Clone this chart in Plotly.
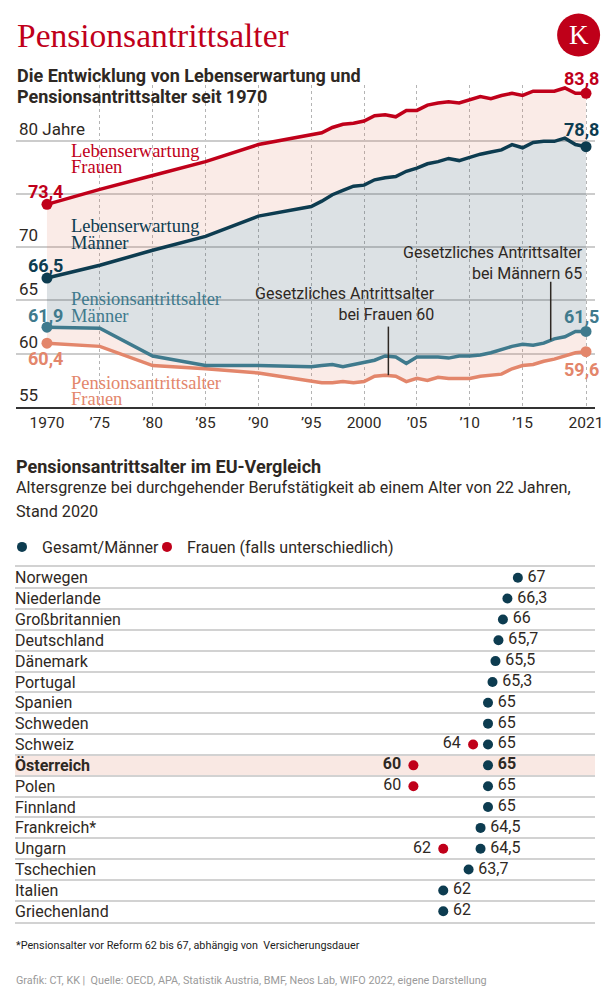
import plotly.graph_objects as go

# ---------------- data: development 1970-2021 ----------------
years = [1970, 1975, 1980, 1985, 1990,
         1995, 1996, 1997, 1998, 1999, 2000, 2001, 2002, 2003, 2004, 2005, 2006, 2007, 2008,
         2009, 2010, 2011, 2012, 2013, 2014, 2015, 2016, 2017, 2018, 2019, 2020, 2021]
le_women = [73.4, 74.8, 76.1, 77.4, 79.0,
            79.9, 80.1, 80.6, 80.9, 81.0, 81.2, 81.7, 81.8, 81.6, 82.2, 82.2, 82.7, 82.9, 83.0,
            82.9, 83.2, 83.5, 83.3, 83.6, 83.8, 83.6, 84.0, 84.0, 84.0, 84.3, 83.8, 83.8]
le_men = [66.5, 67.7, 69.1, 70.4, 72.3,
          73.2, 73.7, 74.3, 74.7, 75.1, 75.2, 75.7, 75.9, 76.0, 76.5, 76.8, 77.2, 77.4, 77.7,
          77.5, 77.8, 78.1, 78.3, 78.5, 79.0, 78.7, 79.2, 79.3, 79.3, 79.6, 79.0, 78.8]
pa_men = [61.9, 61.8, 59.2, 58.3, 58.3,
          58.2, 58.3, 58.4, 58.2, 58.4, 58.6, 58.8, 59.2, 59.1, 58.5, 59.1, 59.1, 59.1, 59.0,
          59.2, 59.2, 59.3, 59.5, 59.8, 60.1, 60.3, 60.2, 60.4, 60.8, 61.0, 61.5, 61.5]
pa_women = [60.4, 60.1, 58.3, 58.0, 57.6,
            56.8, 56.7, 56.7, 56.8, 56.7, 56.8, 57.3, 57.4, 57.3, 56.8, 57.1, 56.9, 57.2, 57.1,
            57.1, 57.1, 57.3, 57.4, 57.5, 58.0, 58.3, 58.4, 58.7, 58.9, 59.2, 59.5, 59.6]

x_tick_vals = [1970, 1975, 1980, 1985, 1990, 1995, 2000, 2005, 2010, 2015, 2021]
x_tick_text = ["1970", "’75", "’80", "’85", "’90", "’95", "2000", "’05", "’10", "’15", "2021"]
y_tick_vals = [55, 60, 65, 70, 75, 80]
y_tick_text = ["55", "60", "65", "70", "", "80 Jahre"]

# ---------------- data: EU comparison (Stand 2020) ----------------
countries = ["Norwegen", "Niederlande", "Großbritannien", "Deutschland", "Dänemark", "Portugal",
             "Spanien", "Schweden", "Schweiz", "Österreich", "Polen", "Finnland", "Frankreich*",
             "Ungarn", "Tschechien", "Italien", "Griechenland"]
age_total_men = [67, 66.3, 66, 65.7, 65.5, 65.3, 65, 65, 65, 65, 65, 65, 64.5, 64.5, 63.7, 62, 62]
age_women = [None, None, None, None, None, None, None, None, 64, 60, 60, None, None, 62, None, None, None]
highlight = "Österreich"

# ---------------- style ----------------
OFF = 8                      # page body margin of the html page
W, H = 616 - 2 * OFF, 1004 - 2 * OFF
RED = "#c0001a"
NAVY = "#0d3c50"
TEAL = "#3f7a8d"
SALMON = "#e3866b"
PINK = "rgba(224,120,95,0.15)"
GRAY = "rgba(40,70,90,0.16)"
TXT = "#2e2823"
SANS = "Roboto, 'Open Sans', sans-serif"
SERIF = "'Liberation Serif', 'DejaVu Serif', serif"


def px(x):
    return (x - OFF) / W


def py(y):
    return 1 - (y - OFF) / H


def fmt(v):
    return f"{v:g}".replace(".", ",")


TOP_DOMAIN = [py(407), py(85)]
TOP_X_DOMAIN = [px(16), px(595)]
X_RANGE = [1967.07, 2021.85]

fig = go.Figure()

# invisible trace so that the grid/label subplot (x, y) is drawn underneath the data
fig.add_trace(go.Scatter(x=years, y=pa_women, xaxis="x", yaxis="y", mode="none",
                         showlegend=False, hoverinfo="skip"))

# ---- top chart: lines with fills between them (drawn on x2/y2) ----
series = [
    (pa_women, SALMON, None, None),
    (pa_men, TEAL, "tonexty", PINK),
    (le_men, NAVY, "tonexty", GRAY),
    (le_women, RED, "tonexty", PINK),
]
for vals, col, fill, fcol in series:
    fig.add_trace(go.Scatter(
        x=years, y=vals, xaxis="x2", yaxis="y2", mode="lines",
        line=dict(color=col, width=3.5), fill=fill, fillcolor=fcol,
        showlegend=False, hoverinfo="skip"))
for vals, col, fill, fcol in series:
    fig.add_trace(go.Scatter(
        x=[years[0], years[-1]], y=[vals[0], vals[-1]], xaxis="x2", yaxis="y2",
        mode="markers", marker=dict(color=col, size=11), showlegend=False,
        hoverinfo="skip", cliponaxis=False))

annotations = []

# value labels at start and end of each series
label_shifts = {  # (start yshift, end yshift)
    RED: (13, 15),
    NAVY: (13, 17),
    TEAL: (12, 15),
    SALMON: (-15, -18),
}
for vals, col, fill, fcol in series:
    s0, s1 = label_shifts[col]
    annotations.append(dict(x=years[0], y=vals[0], xref="x2", yref="y2", text=fmt(vals[0]),
                            showarrow=False, yshift=s0, xshift=-1,
                            font=dict(family=SANS, size=18, color=col, weight=700)))
    annotations.append(dict(x=years[-1], y=vals[-1], xref="x2", yref="y2", text=fmt(vals[-1]),
                            showarrow=False, yshift=s1, xshift=-5,
                            font=dict(family=SANS, size=18, color=col, weight=700)))

# series names (serif)
name_labels = [
    ("Lebenserwartung", 150.7, RED), ("Frauen", 167.3, RED),
    ("Lebenserwartung", 226, NAVY), ("Männer", 242.7, NAVY),
    ("Pensionsantrittsalter", 299, TEAL), ("Männer", 315.7, TEAL),
    ("Pensionsantrittsalter", 382.7, SALMON), ("Frauen", 399.3, SALMON),
]
for txt, yy, col in name_labels:
    annotations.append(dict(x=px(69), y=py(yy), xref="paper", yref="paper", text=txt,
                            showarrow=False, xanchor="left", yanchor="middle",
                            font=dict(family=SERIF, size=18.5, color=col)))

# legal retirement age notes
annotations.append(dict(x=px(437), y=py(304), xref="paper", yref="paper",
                        text="Gesetzliches Antrittsalter<br>bei Frauen 60", align="right",
                        showarrow=False, xanchor="right", yanchor="middle",
                        font=dict(family=SANS, size=16, color=TXT)))
annotations.append(dict(x=px(585), y=py(262.5), xref="paper", yref="paper",
                        text="Gesetzliches Antrittsalter<br>bei Männern 65", align="right",
                        showarrow=False, xanchor="right", yanchor="middle",
                        font=dict(family=SANS, size=16, color=TXT)))

shapes = [
    dict(type="line", xref="x2", yref="y2", x0=2002.3, x1=2002.3, y0=57.4, y1=61.95,
         line=dict(color=TXT, width=1.5)),
    dict(type="line", xref="x2", yref="y2", x0=2017.66, x1=2017.66, y0=60.66, y1=66.15,
         line=dict(color=TXT, width=1.5)),
]

# ---- EU comparison dot chart ----
rows = list(range(len(countries)))
hl = countries.index(highlight)
shapes.append(dict(type="rect", xref="x3 domain", yref="y3", x0=0, x1=1, y0=hl - 0.5, y1=hl + 0.5,
                   fillcolor="#f9e8e3", line=dict(width=0), layer="below"))

tick_text = [f"<b>{c}</b>" if c == highlight else c for c in countries]
men_text = [f"<b>{fmt(v)}</b>" if c == highlight else fmt(v) for c, v in zip(countries, age_total_men)]
wom_text = [("" if v is None else (f"<b>{fmt(v)}</b>" if c == highlight else fmt(v)))
            for c, v in zip(countries, age_women)]

fig.add_trace(go.Scatter(x=age_total_men, y=rows, xaxis="x3", yaxis="y3", mode="markers",
                         marker=dict(color=NAVY, size=10), name="Gesamt/Männer",
                         legend="legend", hoverinfo="skip"))
fig.add_trace(go.Scatter(x=age_women, y=rows, xaxis="x3", yaxis="y3", mode="markers",
                         marker=dict(color=RED, size=10), name="Frauen (falls unterschiedlich)",
                         legend="legend2", hoverinfo="skip"))
fig.add_trace(go.Scatter(x=age_total_men, y=rows, xaxis="x3", yaxis="y3", mode="markers+text",
                         text=men_text, textposition="middle right",
                         marker=dict(size=14, color="rgba(0,0,0,0)"),
                         textfont=dict(family=SANS, size=16, color=TXT), showlegend=False,
                         hoverinfo="skip"))
fig.add_trace(go.Scatter(x=age_women, y=rows, xaxis="x3", yaxis="y3", mode="markers+text",
                         text=wom_text, textposition="middle left",
                         marker=dict(size=18, color="rgba(0,0,0,0)"),
                         textfont=dict(family=SANS, size=16, color=TXT), showlegend=False,
                         hoverinfo="skip"))

# ---- titles / texts ----
annotations += [
    dict(x=px(15), y=py(35), text="Pensionsantrittsalter", xanchor="left", yanchor="middle",
         font=dict(family=SERIF, size=33.5, color=RED)),
    dict(x=px(15), y=py(76), text="Die Entwicklung von Lebenserwartung und", xanchor="left",
         yanchor="middle", font=dict(family=SANS, size=18, color=TXT, weight=700)),
    dict(x=px(15), y=py(97), text="Pensionsantrittsalter seit 1970", xanchor="left",
         yanchor="middle", font=dict(family=SANS, size=18, color=TXT, weight=700)),
    dict(x=px(578.6), y=py(35), text="K", xanchor="center", yanchor="middle",
         font=dict(family=SERIF, size=27, color="white")),
    dict(x=px(14), y=py(466.5), text="Pensionsantrittsalter im EU-Vergleich", xanchor="left",
         yanchor="middle", font=dict(family=SANS, size=18, color=TXT, weight=700)),
    dict(x=px(14), y=py(487.7),
         text="Altersgrenze bei durchgehender Berufstätigkeit ab einem Alter von 22 Jahren,",
         xanchor="left", yanchor="middle", font=dict(family=SANS, size=16.2, color=TXT)),
    dict(x=px(14), y=py(511.7), text="Stand 2020", xanchor="left", yanchor="middle",
         font=dict(family=SANS, size=16.2, color=TXT)),
    dict(x=px(14), y=py(945.7),
         text="*Pensionsalter vor Reform 62 bis 67, abhängig von  Versicherungsdauer",
         xanchor="left", yanchor="middle", font=dict(family=SANS, size=10.8, color="#222222")),
    dict(x=px(14), y=py(980),
         text="Grafik: CT, KK |  Quelle: OECD, APA, Statistik Austria, BMF, Neos Lab, WIFO 2022, eigene Darstellung",
         xanchor="left", yanchor="middle", font=dict(family=SANS, size=10.8, color="#9a9a9a")),
]
for a in annotations:
    a.setdefault("xref", "paper")
    a.setdefault("yref", "paper")
    a.setdefault("showarrow", False)

shapes.append(dict(type="circle", xref="paper", yref="paper",
                   x0=px(557.1), x1=px(600.1), y0=py(56.5), y1=py(13.5),
                   fillcolor="#bf0019", line=dict(width=0)))

legend_common = dict(orientation="h", xanchor="left", yanchor="middle", y=py(547),
                     font=dict(family=SANS, size=16, color=TXT), itemwidth=30,
                     bgcolor="rgba(0,0,0,0)", borderwidth=0)

hidden = dict(showgrid=False, showticklabels=False, ticks="", zeroline=False,
              showline=False, fixedrange=True)

fig.update_layout(
    width=W, height=H, autosize=False,
    margin=dict(l=0, r=0, t=0, b=0, pad=0, autoexpand=False),
    paper_bgcolor="white", plot_bgcolor="rgba(0,0,0,0)",
    font=dict(family=SANS, color=TXT),
    showlegend=True,
    legend=dict(x=px(2), **legend_common),
    legend2=dict(x=px(147), **legend_common),
    # grid axes of the top chart (drawn below the data)
    xaxis=dict(domain=TOP_X_DOMAIN, range=X_RANGE, anchor="y",
               tickvals=x_tick_vals, showticklabels=False, ticks="",
               showgrid=True, griddash="dot", gridcolor="#b4b4b4", gridwidth=1,
               showline=False, zeroline=False, fixedrange=True),
    yaxis=dict(domain=TOP_DOMAIN, range=[55, 85.23], anchor="x",
               tickvals=y_tick_vals, ticktext=y_tick_text, ticks="",
               ticklabelposition="inside top", tickfont=dict(family=SANS, size=17, color=TXT),
               showgrid=True, gridcolor="#cccccc", gridwidth=1.5, zeroline=False,
               showline=False, fixedrange=True),
    # data axes of the top chart (same area); year labels + base line
    xaxis2=dict(domain=TOP_X_DOMAIN, range=X_RANGE, anchor="y2",
                tickvals=x_tick_vals, ticktext=x_tick_text, ticks="",
                tickfont=dict(family=SANS, size=15.5, color=TXT),
                showgrid=False, zeroline=False,
                showline=True, linecolor="#333333", linewidth=2, fixedrange=True),
    yaxis2=dict(domain=TOP_DOMAIN, range=[54.42, 84.58], anchor="x2", **hidden),
    # dot chart
    xaxis3=dict(domain=[px(15), px(595)], range=[33.3, 72.17], anchor="y3",
                showticklabels=False, ticks="", showgrid=False, zeroline=False,
                showline=True, mirror=True, linecolor="#d2d2d2", linewidth=2, fixedrange=True),
    yaxis3=dict(domain=[py(921.7), py(567.3)], range=[len(countries) - 0.5, -0.5], anchor="x3",
                tickvals=rows, ticktext=tick_text, ticks="", ticklabelposition="inside",
                ticklabelstandoff=-3,
                tickfont=dict(family=SANS, size=16, color=TXT),
                showgrid=False, zeroline=False, showline=False,
                minor=dict(tick0=-0.5, dtick=1, showgrid=True, gridcolor="#d2d2d2", gridwidth=2),
                fixedrange=True),
    annotations=annotations,
    shapes=shapes,
)

fig.write_html("out.html")
